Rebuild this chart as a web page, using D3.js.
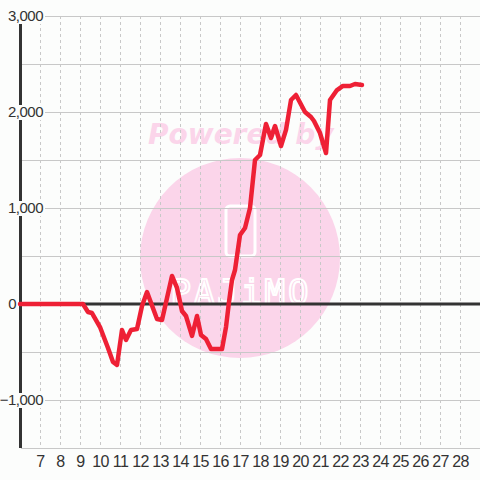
<!DOCTYPE html>
<html><head><meta charset="utf-8">
<script src="https://cdn.jsdelivr.net/npm/d3@7/dist/d3.min.js"></script>
<style>html,body{margin:0;padding:0;background:#fcfdfc;}svg{display:block;}</style>
</head><body><svg id="c" width="480" height="480"></svg>
<script>
const days = [6.00,9.15,9.40,9.60,10.00,10.40,10.65,10.85,11.10,11.30,11.55,11.85,12.10,12.35,12.85,13.10,13.60,13.85,14.10,14.30,14.60,14.85,15.05,15.30,15.55,16.10,16.30,16.45,16.60,16.75,17.00,17.25,17.50,17.75,18.00,18.30,18.55,18.75,19.05,19.30,19.55,19.80,20.25,20.55,20.70,21.00,21.30,21.50,21.85,22.15,22.50,22.75,23.10];
const values = [0,0,-83,-94,-240,-458,-604,-635,-271,-375,-271,-260,-21,125,-156,-167,292,167,-73,-125,-333,-125,-323,-365,-469,-469,-240,21,250,354,719,792,1000,1500,1552,1875,1729,1854,1646,1813,2125,2177,2000,1948,1906,1781,1573,2125,2229,2271,2271,2292,2281];
const xTicks = [7,8,9,10,11,12,13,14,15,16,17,18,19,20,21,22,23,24,25,26,27,28];
const yGrid = [-1500,-1000,-500,0,500,1000,1500,2000,2500,3000];
const yLabels = [3000,2000,1000,0,-1000];

const svg = d3.select('#c');
const x = d3.scaleLinear().domain([6,29]).range([20,480]);
const y = d3.scaleLinear().domain([-1500,3000]).range([448,16]);
const fmt = d3.format(',');

// watermark
svg.append('circle').attr('cx',240).attr('cy',258).attr('r',100).attr('fill','#fbd5ea');
svg.append('text').attr('x',148).attr('y',144).attr('font-family','DejaVu Sans').attr('font-weight','bold')
  .attr('font-style','italic').attr('font-size',28).attr('fill','#fbd5ea').text('Powered by');
svg.append('rect').attr('x',226).attr('y',206).attr('width',29).attr('height',50).attr('rx',4)
  .attr('fill','none').attr('stroke','#fff').attr('stroke-width',3);
svg.append('text').attr('x',241).attr('y',304).attr('text-anchor','middle').attr('font-family','DejaVu Sans Mono')
  .attr('font-size',34).attr('letter-spacing',3).attr('fill','none').attr('stroke','#fff').attr('stroke-width',2).text('PAJiMO');

// gridlines
svg.append('g').selectAll('line').data(xTicks).join('line')
  .attr('x1',d=>x(d)+0.5).attr('x2',d=>x(d)+0.5).attr('y1',16).attr('y2',448)
  .attr('stroke','#c8c8c8').attr('stroke-width',1).attr('stroke-dasharray','3,3');
svg.append('g').selectAll('line').data(yGrid).join('line')
  .attr('x1',21).attr('x2',480).attr('y1',d=>y(d)+0.5).attr('y2',d=>y(d)+0.5)
  .attr('stroke','#c8c8c8').attr('stroke-width',1);

// axes
svg.append('line').attr('x1',20.5).attr('x2',20.5).attr('y1',16).attr('y2',448).attr('stroke','#333').attr('stroke-width',3);
svg.append('line').attr('x1',21).attr('x2',480).attr('y1',y(0)).attr('y2',y(0)).attr('stroke','#333').attr('stroke-width',3);

// y labels with background
const yl = svg.append('g').selectAll('g').data(yLabels).join('g');
yl.append('rect').attr('x',0).attr('y',d=>y(d)-7).attr('width',d=>d===0?18:45).attr('height',15).attr('fill','#fcfdfc');
yl.append('text').attr('x',d=>d===0?16:43).attr('y',d=>y(d)).attr('dy','0.35em').attr('text-anchor','end')
  .attr('font-family','Liberation Sans, Arial, sans-serif').attr('font-size',15).attr('letter-spacing',-0.5)
  .attr('fill','#333').text(d=>fmt(d));

// x labels
svg.append('g').selectAll('text').data(xTicks).join('text')
  .attr('x',d=>x(d)+0.5).attr('y',467).attr('text-anchor','middle')
  .attr('font-family','Liberation Sans, Arial, sans-serif').attr('font-size',16).attr('letter-spacing',-0.6)
  .attr('fill','#333').text(d=>d);

// series
const pts = days.map((d,i)=>[d,values[i]]);
svg.append('path').datum(pts)
  .attr('d', d3.line().x(d=>x(d[0])).y(d=>y(d[1])))
  .attr('fill','none').attr('stroke','#ee2035').attr('stroke-width',4.5)
  .attr('stroke-linejoin','round').attr('stroke-linecap','round');
</script></body></html>
